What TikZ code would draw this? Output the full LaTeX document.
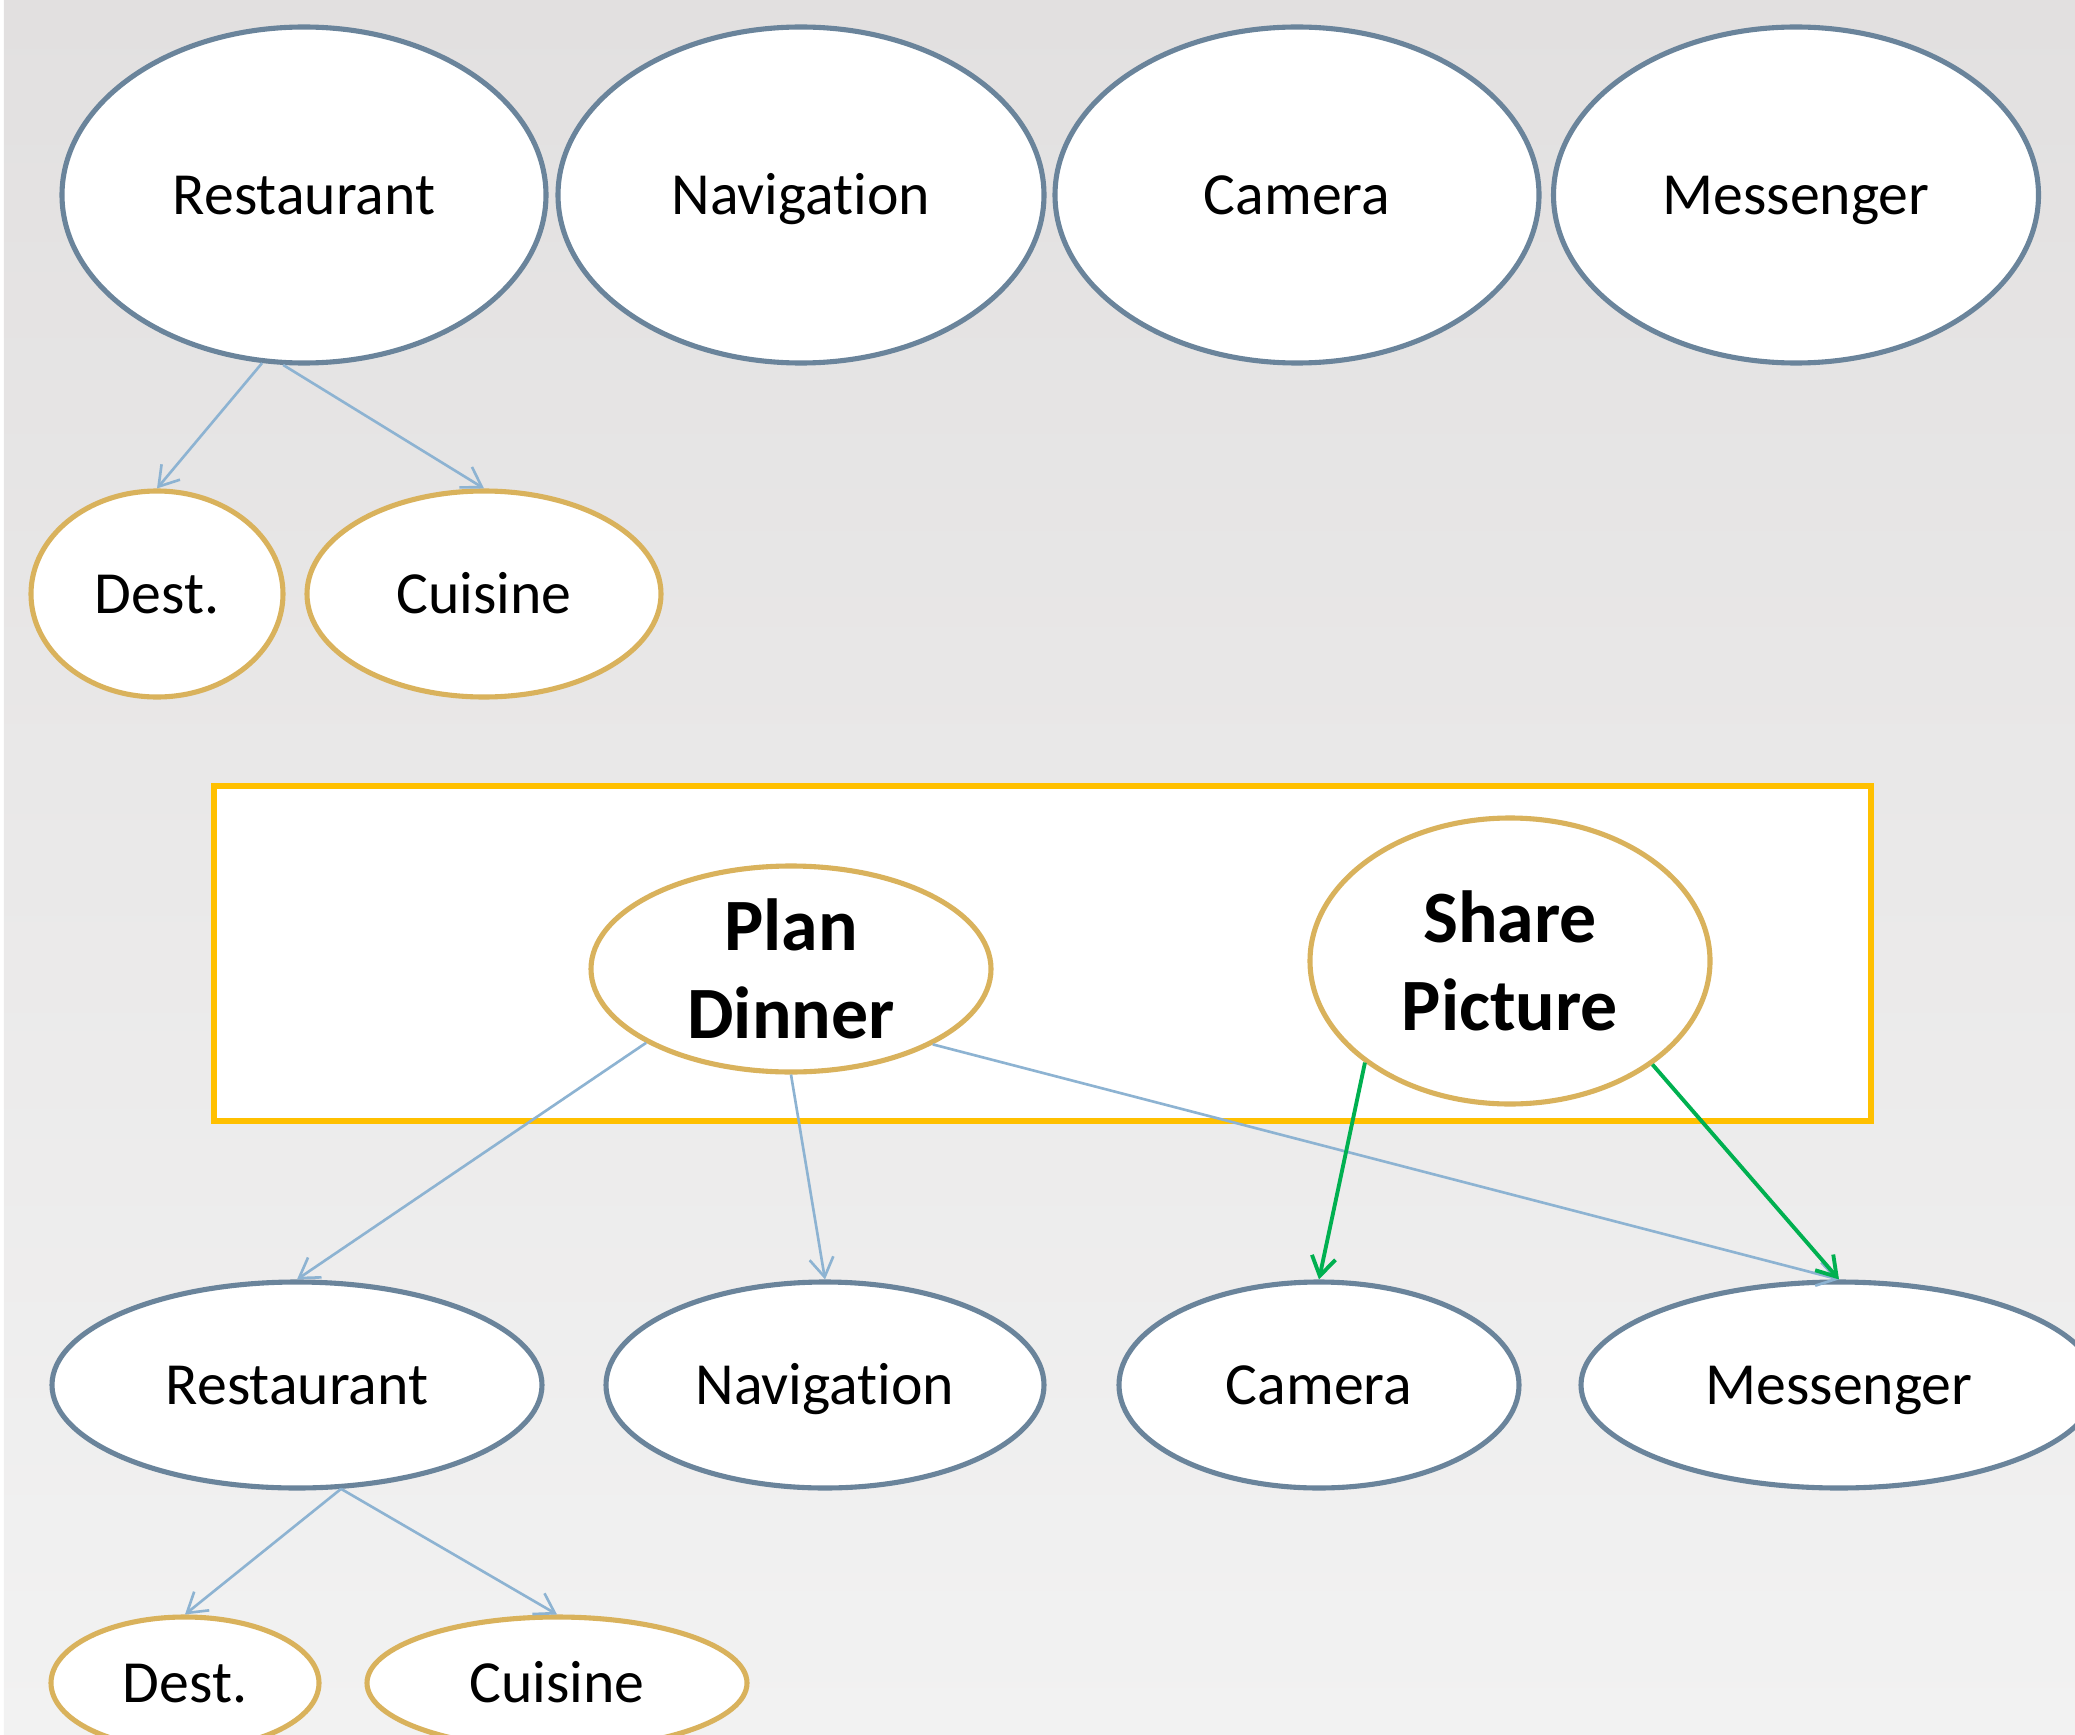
\documentclass[tikz,border=0pt]{standalone}
\usepackage{fontspec}
\setmainfont{Carlito}[Ligatures=NoCommon]
\usetikzlibrary{shapes.geometric,arrows.meta}

\definecolor{slateline}{HTML}{6A849B}
\definecolor{goldline}{HTML}{D9B25C}
\definecolor{edgeblue}{HTML}{8DB3D2}
\definecolor{edgegreen}{HTML}{00B050}
\definecolor{boxyellow}{HTML}{FFC000}
\definecolor{bgtop}{HTML}{E2E0E0}
\definecolor{bgbottom}{HTML}{F2F2F2}

\begin{document}
\begin{tikzpicture}[
    app/.style={ellipse, draw=slateline, line width=1.45pt, fill=white, inner sep=0pt,
      text height=11pt, text depth=0pt, font=\fontsize{17pt}{20pt}\selectfont},
    slot/.style={ellipse, draw=goldline, line width=1.45pt, fill=white, inner sep=0pt,
      text height=11pt, text depth=0pt, font=\fontsize{17pt}{20pt}\selectfont},
    task/.style={ellipse, draw=goldline, line width=1.45pt, fill=white, inner sep=0pt,
      align=center, font=\fontsize{21pt}{25pt}\selectfont\bfseries},
    uses/.style={-{Straight Barb[length=1.9mm,width=2.4mm]}, draw=edgeblue, line width=0.75pt},
    shares/.style={-{Straight Barb[length=1.9mm,width=2.4mm]}, draw=edgegreen, line width=1.1pt},
  ]
  \useasboundingbox (0,0) rectangle (20.75,-17.35);
  \shade[top color=bgtop, bottom color=bgbottom] (0.04,0) rectangle (20.75,-17.35);

  % apps on their own
  \node[app, minimum width=4.84cm, minimum height=3.36cm] (R1) at (3.04,-1.95) {Restaurant};
  \node[app, minimum width=4.86cm, minimum height=3.36cm] (N1) at (8.01,-1.95) {Navigation};
  \node[app, minimum width=4.84cm, minimum height=3.36cm] (C1) at (12.97,-1.95) {Camera};
  \node[app, minimum width=4.85cm, minimum height=3.36cm] (M1) at (17.96,-1.95) {Messenger};

  \node[slot, minimum width=2.52cm, minimum height=2.06cm] (D1) at (1.57,-5.94) {Dest.};
  \node[slot, minimum width=3.54cm, minimum height=2.06cm] (K1) at (4.84,-5.94) {Cuisine};

  \draw[uses] (R1.256) -- (D1.90);
  \draw[uses] (R1.263.5) -- (K1.90);

  % tasks
  \draw[boxyellow, line width=1.6pt, fill=white] (2.14,-7.86) rectangle (18.71,-11.21);
  \node[task, minimum width=4.0cm, minimum height=2.06cm] (PD) at (7.91,-9.69) {Plan\\Dinner};
  \node[task, minimum width=4.0cm, minimum height=2.86cm] (SP) at (15.10,-9.61) {Share\\Picture};

  % apps used by the tasks
  \node[app, minimum width=4.90cm, minimum height=2.06cm] (R2) at (2.97,-13.85) {Restaurant};
  \node[app, minimum width=4.38cm, minimum height=2.06cm] (N2) at (8.25,-13.85) {Navigation};
  \node[app, minimum width=4.00cm, minimum height=2.06cm] (C2) at (13.19,-13.85) {Camera};
  \node[app, minimum width=5.16cm, minimum height=2.06cm] (M2) at (18.39,-13.85) {Messenger};

  \node[slot, minimum width=2.68cm, minimum height=1.32cm] (D2) at (1.85,-16.83) {Dest.};
  \node[slot, minimum width=3.80cm, minimum height=1.32cm] (K2) at (5.57,-16.83) {Cuisine};

  \draw[uses] (PD.207.7) -- (R2.90);
  \draw[uses] (PD.270) -- (N2.90);
  \draw[uses] (PD.332.2) -- (M2.90);
  \draw[shares] (SP.215.7) -- (C2.90);
  \draw[shares] (SP.324.5) -- (M2.90);

  \draw[uses] (R2.293.5) -- (D2.90);
  \draw[uses] (R2.293.5) -- (K2.90);
\end{tikzpicture}
\end{document}
